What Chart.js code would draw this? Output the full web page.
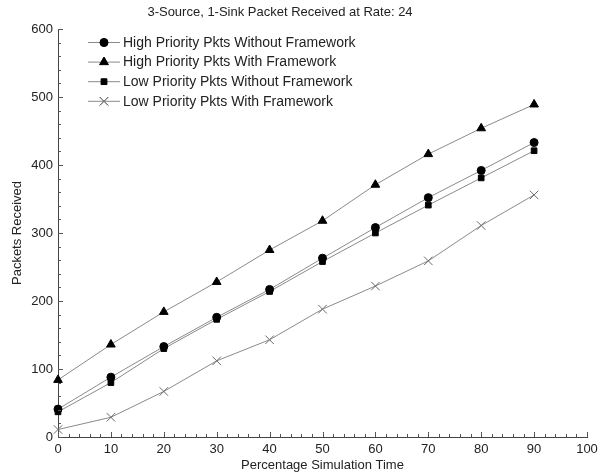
<!DOCTYPE html>
<html>
<head>
<meta charset="utf-8">
<script src="https://cdn.jsdelivr.net/npm/chart.js@4.4.0/dist/chart.umd.min.js"></script>
<style>
  html, body { margin: 0; padding: 0; background: #fff; }
  #wrap { width: 610px; height: 473px; }
</style>
</head>
<body>
<div id="wrap"><canvas id="myChart" width="610" height="473"></canvas></div>
<script>
// simulation time in percent
const simTime = [0, 10, 20, 30, 40, 50, 60, 70, 80, 90];

// packets received per series
const highWithout = [41, 88, 133, 176, 217, 263, 308, 352, 392, 433];
const highWith = [84, 136, 184, 228, 275, 318, 371, 416, 454, 489];
const lowWithout = [37, 80, 130, 173, 214, 258, 300, 341, 381, 421];
const lowWith = [11, 29, 67, 112, 143, 188, 222, 259, 311, 356];

const seriesNames = [
  'High Priority Pkts Without Framework',
  'High Priority Pkts With Framework',
  'Low Priority Pkts Without Framework',
  'Low Priority Pkts With Framework'
];

const FONT = '"Liberation Sans", Arial, sans-serif';

function toPoints(values) {
  return simTime.map((t, i) => ({ x: t, y: values[i] }));
}

function makeSet(label, values, style, radius, color) {
  return {
    label: label,
    data: toPoints(values),
    borderColor: '#8a8a8a',
    borderWidth: 1,
    pointStyle: style,
    pointRadius: radius,
    pointBackgroundColor: color,
    pointBorderColor: color,
    pointBorderWidth: 1,
    tension: 0,
    clip: false
  };
}

// inward tick marks, the title and the legend box
const decorations = {
  id: 'decorations',
  afterDraw(chart) {
    const c = chart.ctx;
    const xs = chart.scales.x;
    const ys = chart.scales.y;
    const area = chart.chartArea;
    c.save();
    c.strokeStyle = '#555';
    c.lineWidth = 1;
    c.beginPath();
    for (let v = 0; v <= 600; v += 20) {
      const py = Math.round(ys.getPixelForValue(v)) + 0.5;
      const len = v % 100 === 0 ? 5 : 3;
      c.moveTo(area.left, py);
      c.lineTo(area.left + len, py);
    }
    for (let v = 0; v <= 100; v += 2) {
      const px = Math.round(xs.getPixelForValue(v)) + 0.5;
      const len = v % 10 === 0 ? 5 : 3;
      c.moveTo(px, area.bottom);
      c.lineTo(px, area.bottom - len);
    }
    c.stroke();

    c.fillStyle = '#222';
    c.font = '13px ' + FONT;
    c.textAlign = 'center';
    c.textBaseline = 'middle';
    c.fillText('3-Source, 1-Sink Packet Received at Rate: 24', 280, 12);

    // legend rows
    c.textAlign = 'left';
    c.font = '14px ' + FONT;
    chart.data.datasets.forEach((ds, i) => {
      const y = 42 + i * 19.6;
      c.strokeStyle = '#8a8a8a';
      c.beginPath();
      c.moveTo(88, y + 0.5);
      c.lineTo(120, y + 0.5);
      c.stroke();
      Chart.helpers.drawPoint(c, {
        pointStyle: ds.pointStyle,
        radius: ds.pointRadius,
        borderWidth: 1
      }, 104, y + 0.5);
      c.fillStyle = ds.pointBackgroundColor;
      c.strokeStyle = ds.pointBorderColor;
      if (ds.pointStyle !== 'cross') {
        c.fill();
      }
      c.stroke();
      c.fillStyle = '#222';
      c.fillText(ds.label, 123, y + 1);
    });
    c.restore();
  }
};

const ctx = document.getElementById('myChart').getContext('2d');
const myChart = new Chart(ctx, {
  type: 'line',
  data: {
    datasets: [
      makeSet(seriesNames[0], highWithout, 'circle', 4, '#000'),
      makeSet(seriesNames[1], highWith, 'triangle', 5, '#000'),
      makeSet(seriesNames[2], lowWithout, 'rect', 4, '#000'),
      makeSet(seriesNames[3], lowWith, 'crossRot', 6, '#6a6a6a')
    ]
  },
  options: {
    responsive: false,
    animation: false,
    layout: { padding: { top: 29, right: 23, left: 0, bottom: 0 } },
    plugins: {
      legend: { display: false },
      title: { display: false },
      tooltip: { enabled: false }
    },
    scales: {
      x: {
        type: 'linear',
        min: 0,
        max: 100,
        afterFit(scale) { scale.height = 36; },
        grid: { display: false, drawTicks: false },
        border: { display: true, color: '#444', width: 1 },
        ticks: {
          stepSize: 10,
          padding: 5,
          color: '#222',
          font: { family: FONT, size: 13 }
        },
        title: {
          display: true,
          text: 'Percentage Simulation Time',
          color: '#222',
          padding: { top: 0, bottom: 0 },
          font: { family: FONT, size: 13 }
        }
      },
      y: {
        min: 0,
        max: 600,
        afterFit(scale) { scale.width = 58; },
        grid: { display: false, drawTicks: false },
        border: { display: true, color: '#444', width: 1 },
        ticks: {
          stepSize: 100,
          padding: 5,
          color: '#222',
          font: { family: FONT, size: 13 }
        },
        title: {
          display: true,
          text: 'Packets Received',
          color: '#222',
          padding: { top: 10, bottom: 0 },
          font: { family: FONT, size: 13 }
        }
      }
    }
  },
  plugins: [decorations]
});
</script>
</body>
</html>
